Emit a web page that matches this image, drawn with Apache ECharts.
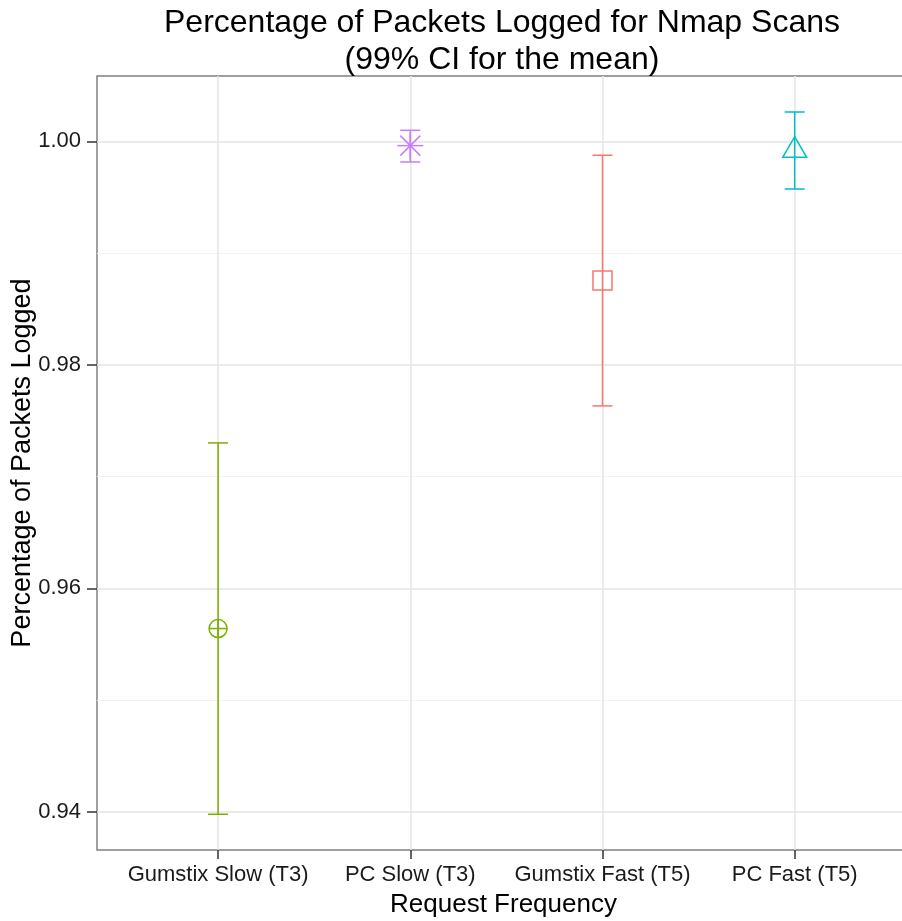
<!DOCTYPE html>
<html>
<head>
<meta charset="utf-8">
<script src="https://cdn.jsdelivr.net/npm/echarts@6/dist/echarts.min.js"></script>
<style>
html,body{margin:0;padding:0;background:#fff;}
#chart{width:902px;height:921px;}
</style>
</head>
<body>
<div id="chart"></div>
<script>
// ---- data ----
const categories = ['Gumstix Slow (T3)', 'PC Slow (T3)', 'Gumstix Fast (T5)', 'PC Fast (T5)'];
const means  = [0.95640, 0.99961, 0.98755, 0.99918];
const lowers = [0.93978, 0.99815, 0.97632, 0.99573];
const uppers = [0.97301, 1.00098, 0.99875, 1.00262];
const colors = ['#7CAE00', '#C77CFF', '#F8766D', '#00BFC4'];
const shapes = ['circlePlus', 'asterisk', 'square', 'triangle'];
const yMajorTicks = [0.94, 0.96, 0.98, 1.00];
const yMinorTicks = [0.95, 0.97, 0.99];
const xTicks = [1, 2, 3, 4];

const FONT = "'Liberation Sans', Arial, sans-serif";
const yMin = 0.936583, yMax = 1.005841;

const seriesData = categories.map((c, i) => [i + 1, means[i], lowers[i], uppers[i], i]);

function markerShapes(type, cx, cy, style) {
  const L = (x1, y1, x2, y2) => ({ type: 'line', shape: { x1, y1, x2, y2 }, style });
  if (type === 'circlePlus') {
    const r = 9;
    return [
      { type: 'circle', shape: { cx, cy, r }, style },
      L(cx - r, cy, cx + r, cy),
      L(cx, cy - r, cx, cy + r)
    ];
  }
  if (type === 'asterisk') {
    const a = 13, d = 10;
    return [
      L(cx - a, cy, cx + a, cy),
      L(cx, cy - a, cx, cy + a),
      L(cx - d, cy - d, cx + d, cy + d),
      L(cx - d, cy + d, cx + d, cy - d)
    ];
  }
  if (type === 'square') {
    const h = 9.5;
    return [{ type: 'rect', shape: { x: cx - h, y: cy - h, width: 2 * h, height: 2 * h }, style }];
  }
  // triangle (R pch 2 geometry)
  const r = 13.8, hx = r * Math.sqrt(3) / 2;
  return [{ type: 'polygon', shape: { points: [[cx, cy - r], [cx + hx, cy + r / 2], [cx - hx, cy + r / 2]] }, style }];
}

const chart = echarts.init(document.getElementById('chart'), null, { renderer: 'canvas' });
chart.setOption({
  animation: false,
  backgroundColor: '#ffffff',
  title: {
    text: 'Percentage of Packets Logged for Nmap Scans\n(99% CI for the mean)',
    left: 502,
    top: 5,
    padding: 0,
    textAlign: 'center',
    textStyle: { fontFamily: FONT, fontSize: 32, fontWeight: 'normal', color: '#000', lineHeight: 37 }
  },
  grid: {
    left: 97, top: 76, right: -8, bottom: 71,
    containLabel: false,
    outerBoundsMode: 'none',
    show: true,
    borderColor: '#808080',
    borderWidth: 1.5,
    backgroundColor: 'transparent'
  },
  xAxis: {
    type: 'value',
    min: 0.37, max: 4.6,
    name: 'Request Frequency',
    nameLocation: 'middle',
    nameGap: 42,
    nameMoveOverlap: false,
    nameTextStyle: { fontFamily: FONT, fontSize: 26, color: '#000' },
    axisLine: { show: false },
    axisTick: { show: true, customValues: xTicks, length: 9, lineStyle: { color: '#333', width: 1.5 } },
    axisLabel: {
      customValues: xTicks, margin: 14,
      fontFamily: FONT, fontSize: 22, color: '#1a1a1a',
      formatter: v => categories[Math.round(v) - 1] || ''
    },
    splitLine: { show: true, customValues: xTicks, lineStyle: { color: '#E5E5E5', width: 1.5 } }
  },
  yAxis: [{
    type: 'value',
    min: yMin, max: yMax,
    name: 'Percentage of Packets Logged',
    nameLocation: 'middle',
    nameGap: 61,
    nameMoveOverlap: false,
    nameTextStyle: { fontFamily: FONT, fontSize: 27, color: '#000' },
    axisLine: { show: false },
    axisTick: { show: true, customValues: yMajorTicks, length: 10, lineStyle: { color: '#333', width: 1.5 } },
    axisLabel: {
      customValues: yMajorTicks, margin: 16,
      fontFamily: FONT, fontSize: 22, color: '#1a1a1a',
      formatter: v => v.toFixed(2)
    },
    splitLine: { show: true, customValues: yMajorTicks, lineStyle: { color: '#E5E5E5', width: 1.5 } }
  }, {
    type: 'value',
    min: yMin, max: yMax,
    position: 'left',
    axisLine: { show: false },
    axisTick: { show: false, customValues: yMinorTicks },
    axisLabel: { show: false, customValues: yMinorTicks },
    splitLine: { show: true, customValues: yMinorTicks, lineStyle: { color: '#F3F3F3', width: 1 } }
  }],
  series: [{
    type: 'custom',
    xAxisIndex: 0,
    yAxisIndex: 0,
    data: seriesData,
    clip: false,
    renderItem: function (params, api) {
      const x = api.value(0);
      const idx = api.value(4);
      const pm = api.coord([x, api.value(1)]);
      const pl = api.coord([x, api.value(2)]);
      const pu = api.coord([x, api.value(3)]);
      const style = { stroke: colors[idx], lineWidth: 1.5, fill: 'none' };
      const cap = 10;
      const children = [
        { type: 'line', shape: { x1: pl[0], y1: pl[1], x2: pu[0], y2: pu[1] }, style },
        { type: 'line', shape: { x1: pl[0] - cap, y1: pl[1], x2: pl[0] + cap, y2: pl[1] }, style },
        { type: 'line', shape: { x1: pu[0] - cap, y1: pu[1], x2: pu[0] + cap, y2: pu[1] }, style }
      ].concat(markerShapes(shapes[idx], pm[0], pm[1], style));
      return { type: 'group', children };
    }
  }]
});
</script>
</body>
</html>
